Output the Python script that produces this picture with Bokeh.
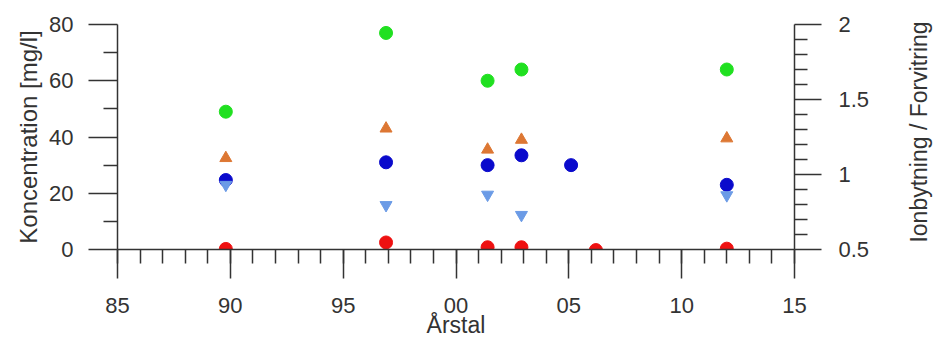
from bokeh.plotting import figure
from bokeh.layouts import row
from bokeh.models import Range1d, LinearAxis, FixedTicker
from bokeh.embed import file_html
from bokeh.resources import INLINE

# ---- data ----
green_years = [1989.8, 1996.9, 2001.4, 2002.9, 2012.0]
green_vals = [49, 77, 60, 64, 64]

orange_years = [1989.8, 1996.9, 2001.4, 2002.9, 2012.0]
orange_vals = [32.5, 43, 35.5, 39, 39.5]

blue_years = [1989.8, 1996.9, 2001.4, 2002.9, 2005.1, 2012.0]
blue_vals = [24.7, 31, 30, 33.5, 30, 23]

lightblue_years = [1989.8, 1996.9, 2001.4, 2002.9, 2012.0]
lightblue_vals = [23, 15.8, 19.5, 12.3, 19.3]

red_years = [1989.8, 1996.9, 2001.4, 2002.9, 2006.2, 2012.0]
red_vals = [0.2, 2.5, 0.8, 0.8, -0.2, 0.3]

x_major = [1985, 1990, 1995, 2000, 2005, 2010, 2015]
x_labels = ["85", "90", "95", "00", "05", "10", "15"]
x_minor = list(range(1985, 2016))

left_major = [0, 20, 40, 60, 80]
left_minor = [10, 30, 50, 70]

right_major = [0.5, 1, 1.5, 2]
right_labels = ["0.5", "1", "1.5", "2"]
right_minor = [0.6, 0.7, 0.8, 0.9, 1.1, 1.2, 1.3, 1.4, 1.6, 1.7, 1.8, 1.9]

x_title = "Årstal"
left_title = "Koncentration [mg/l]"
right_title = "Ionbytning / Forvitring"

FONT = "Liberation Sans"
TXT = "#333333"
LINE = "#333333"

p = figure(width=902, height=345, output_backend="svg", toolbar_location=None,
           x_range=Range1d(1985, 2015), y_range=Range1d(0, 80),
           min_border_left=117, min_border_right=108, min_border_top=24,
           min_border_bottom=96)
p.outline_line_color = None
p.grid.visible = False
p.background_fill_color = "white"
p.border_fill_color = "white"

p.extra_y_ranges = {"ratio": Range1d(0.5, 2)}
raxis = LinearAxis(y_range_name="ratio")
p.add_layout(raxis, "right")

xax = p.xaxis[0]
lax = p.yaxis[0]

xax.ticker = FixedTicker(ticks=x_major, minor_ticks=x_minor)
xax.major_label_overrides = {k: v for k, v in zip(x_major, x_labels)}
xax.axis_label = x_title

lax.ticker = FixedTicker(ticks=left_major, minor_ticks=left_minor)
lax.axis_label = left_title

raxis.ticker = FixedTicker(ticks=right_major, minor_ticks=right_minor)
raxis.major_label_overrides = {k: v for k, v in zip(right_major, right_labels)}

for ax in (xax, lax, raxis):
    ax.axis_line_color = LINE
    ax.axis_line_width = 1.5
    ax.major_tick_line_color = LINE
    ax.major_tick_line_width = 1.5
    ax.minor_tick_line_color = LINE
    ax.minor_tick_line_width = 1.5
    ax.major_tick_in = 0
    ax.minor_tick_in = 0
    ax.major_tick_out = 29
    ax.minor_tick_out = 14
    ax.major_label_text_font = FONT
    ax.major_label_text_font_size = "22px"
    ax.major_label_text_color = TXT
    ax.major_label_standoff = 15
    ax.axis_label_text_font = FONT
    ax.axis_label_text_font_size = "24px"
    ax.axis_label_text_font_style = "normal"
    ax.axis_label_text_color = TXT

raxis.major_tick_out = 27
raxis.minor_tick_out = 13
raxis.major_label_standoff = 17
lax.axis_label_standoff = 4
xax.axis_label_text_font_size = "23px"
xax.major_label_standoff = 19
xax.axis_label_standoff = -4

p.scatter(green_years, green_vals, marker="circle", size=13,
          fill_color="#20e020", line_color="#20e020")
p.scatter(orange_years, orange_vals, marker="triangle", size=12,
          fill_color="#dd7733", line_color="#dd7733")
p.scatter(blue_years, blue_vals, marker="circle", size=13,
          fill_color="#0a0acc", line_color="#0a0acc")
p.scatter(lightblue_years, lightblue_vals, marker="inverted_triangle", size=12,
          fill_color="#6b9be6", line_color="#6b9be6")
p.scatter(red_years, red_vals, marker="circle", size=13,
          fill_color="#ee1111", line_color="#ee1111")

# narrow companion panel that only carries the right-hand axis title,
# so that it reads upwards like in the reference
p2 = figure(width=36, height=335, output_backend="svg", toolbar_location=None,
            x_range=Range1d(0, 1), y_range=Range1d(0, 1),
            x_axis_location=None, y_axis_location="left",
            min_border_left=0, min_border_right=0, min_border_top=24,
            min_border_bottom=96)
p2.outline_line_color = None
p2.grid.visible = False
p2.background_fill_color = "white"
p2.border_fill_color = "white"
tax = p2.yaxis[0]
tax.ticker = FixedTicker(ticks=[])
tax.axis_line_color = None
tax.major_tick_line_color = None
tax.minor_tick_line_color = None
tax.major_tick_out = 0
tax.minor_tick_out = 0
tax.major_label_standoff = 0
tax.axis_label = right_title
tax.axis_label_standoff = 0
tax.axis_label_text_font = FONT
tax.axis_label_text_font_size = "23px"
tax.axis_label_text_font_style = "normal"
tax.axis_label_text_color = TXT

layout = row(p, p2, spacing=0)
open("out.html", "w").write(file_html(layout, INLINE))
